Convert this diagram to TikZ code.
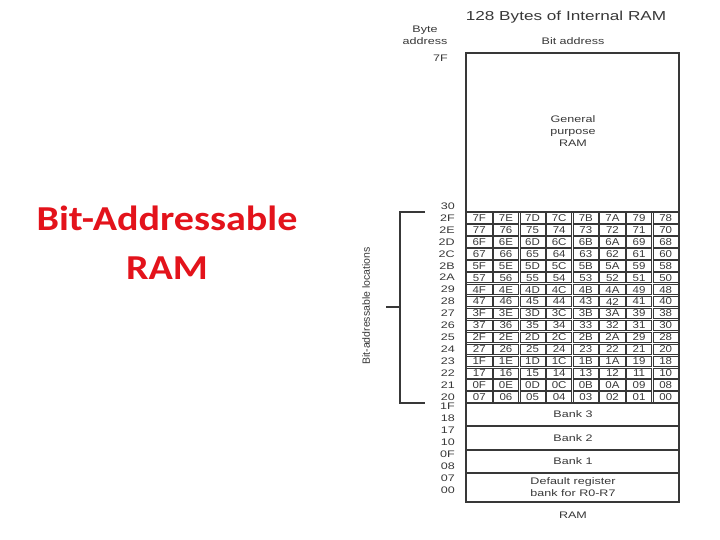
\documentclass[tikz,border=0pt]{standalone}
\usepackage{fontspec}
\setmainfont{Liberation Sans}
\newfontfamily\calibri{Carlito}
\definecolor{ramred}{HTML}{E3131B}
\definecolor{ink}{HTML}{383838}

\begin{document}
\begin{tikzpicture}[x=1pt, y=-1pt,
  lbl/.style={text=ink, font=\fontsize{9.5}{12}\selectfont, inner sep=0pt, xscale=1.32, transform shape},
  bitcell/.style={draw=ink, line width=0.8pt, minimum width=21.9pt, minimum height=10.4pt, inner sep=0pt,
    text=ink, font=\fontsize{10}{9}\selectfont, xscale=1.15, transform shape},
  sidetitle/.style={text=ramred, font=\calibri\bfseries\fontsize{35}{36}\selectfont, xscale=1.145, transform shape, anchor=base}]
  \useasboundingbox (0,0) rectangle (720,540);

  % Titel links
  \node[sidetitle] (side-1) at (167,230) {Bit-Addressable};
  \node[sidetitle] (side-2) at (167,279) {RAM};

  % Kopf
  \node[lbl, font=\fontsize{13}{14}\selectfont] (heading) at (566,17) {128 Bytes of Internal RAM};
  \node[lbl, align=center] (byteaddr) at (425,35) {Byte\\address};
  \node[lbl] (bitaddr) at (573,41) {Bit address};
  \node[lbl, anchor=east] (byte-7F) at (448,58) {7F};
  \node[lbl, anchor=east] (byte-30) at (455,206) {30};

  % Rahmen und Bereiche
  \draw[ink, line width=1.6pt] (466,53) rectangle (679,502);
  \draw[ink, line width=1.1pt] (466,212) -- (679,212);
  \draw[ink, line width=1.1pt] (466,403) -- (679,403);
  \draw[ink, line width=1.1pt] (466,426) -- (679,426);
  \draw[ink, line width=1.1pt] (466,450) -- (679,450);
  \draw[ink, line width=1.1pt] (466,473) -- (679,473);

  \node[lbl, align=center] (gpram) at (573,131) {General\\purpose\\RAM};
  \node[lbl] (bank3) at (573,414) {Bank 3};
  \node[lbl] (bank2) at (573,438) {Bank 2};
  \node[lbl] (bank1) at (573,461) {Bank 1};
  \node[lbl, align=center] (bank0) at (573,487) {Default register\\bank for R0-R7};
  \node[lbl] (ramlbl) at (573,515) {RAM};

  % Bitadressierbarer Bereich
  \foreach \r in {0,...,15} {
    \pgfmathsetmacro\byte{Hex(47-\r)}
    \node[lbl, anchor=east] (byte-\r) at (455, 217.97+11.9375*\r) {\byte};
    \foreach \c in {0,...,7} {
      \pgfmathtruncatemacro\bit{(15-\r)*8+7-\c}
      \pgfmathsetmacro\hexbit{Hex(\bit)}
      \node[bitcell] (cell-\r-\c) at (479.31+26.625*\c, 217.97+11.9375*\r) {\ifnum\bit<16 0\fi\hexbit};
    }
  }

  % Byteadressen unten
  \foreach \b/\y in {1F/406, 18/418, 17/430, 10/442, 0F/454, 08/466, 07/478, 00/490}
    \node[lbl, anchor=east] (byte-\b) at (455,\y) {\b};

  % Klammer
  \draw[ink, line width=1.1pt] (425,212) -- (400,212) -- (400,403) -- (425,403);
  \draw[ink, line width=1.1pt] (386,307) -- (400,307);
  \node[text=ink, font=\fontsize{10.5}{12}\selectfont, rotate=90, inner sep=0pt] (bitloc) at (366,306) {Bit-addressable locations};
\end{tikzpicture}
\end{document}
